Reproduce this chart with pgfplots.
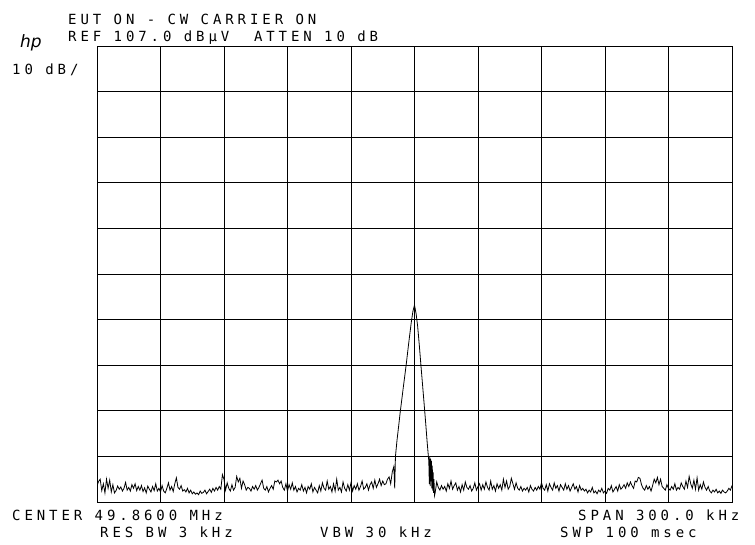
\documentclass[border=0pt]{standalone}
\usepackage{fontspec}
\usepackage{pgfplots}
\usepackage{pgfplotstable}
\pgfplotsset{compat=1.18}
\newfontfamily\hpfont[LetterSpace=28]{DejaVu Sans Mono}
\newfontfamily\logofont{DejaVu Sans}

% sweep points, 0.75 kHz apart, left of the carrier (-150 ... -10.5 kHz)
\pgfplotstableread{
y
10.5
11.5
12.0
9.5
11.0
9.0
12.0
10.0
11.8
9.2
10.8
9.0
9.5
10.5
9.8
10.3
9.4
10.0
11.3
9.6
10.2
9.4
10.8
10.0
11.0
9.5
10.4
9.6
10.6
9.3
10.1
9.0
10.5
9.8
9.2
10.4
9.5
11.0
9.4
10.0
9.2
10.6
9.4
9.0
10.0
11.2
9.6
10.4
9.3
11.0
12.3
10.2
9.8
10.6
9.4
9.7
9.2
10.0
9.0
9.6
8.8
9.2
8.7
9.0
8.6
9.4
8.9
9.1
9.6
8.8
9.3
9.8
9.1
10.0
9.4
10.2
9.6
10.4
9.8
13.0
12.0
9.6
11.2
10.0
9.4
10.8
9.6
10.2
12.6
11.4
12.2
10.0
11.6
10.8
9.6
10.2
10.0
9.4
10.4
9.8
10.6
9.6
10.2
11.0
11.8
10.0
9.6
10.4
9.2
10.0
10.6
9.8
11.6
11.4
11.8
11.0
11.6
10.2
9.6
11.0
9.4
10.8
9.8
11.2
9.6
10.4
9.2
10.0
9.6
10.8
9.4
10.2
9.0
10.4
9.8
11.0
9.2
10.2
9.6
9.0
10.6
9.4
11.2
10.0
9.6
11.6
9.8
10.4
9.2
11.0
9.4
12.0
9.6
10.2
9.2
11.4
10.0
9.4
10.8
9.6
11.2
9.4
10.6
9.8
11.0
9.6
10.4
11.6
9.8
10.2
11.0
9.6
10.8
11.4
10.0
11.8
10.2
11.0
12.0
10.6
11.6
10.8
11.0
12.0
12.5
11.0
13.6
}\noiseleft

% sweep points right of the carrier (9.75 ... 150 kHz)
\pgfplotstableread{
y
9.0
11.4
10.2
9.6
10.6
9.8
10.4
9.4
11.0
10.0
11.6
9.8
10.6
11.2
9.6
10.4
9.2
10.8
9.6
11.4
10.2
9.8
10.6
9.4
10.0
11.2
9.6
10.4
11.0
9.6
10.8
9.8
11.4
10.2
9.6
11.6
9.8
10.6
9.4
11.0
10.0
10.8
9.6
12.0
10.2
11.6
9.8
10.4
12.2
11.0
9.8
11.2
10.0
9.6
10.4
9.4
10.0
9.6
10.2
9.2
10.6
9.8
9.4
10.2
9.6
10.4
9.8
11.2
10.0
9.6
10.8
9.4
11.0
10.2
9.6
11.2
10.0
10.6
9.4
10.8
10.2
9.6
11.0
9.8
10.6
9.4
10.2
11.0
9.8
10.4
9.2
10.6
9.6
10.0
9.4
9.8
9.0
9.6
9.2
10.2
9.0
9.4
8.8
9.6
9.2
10.0
9.0
9.4
8.9
10.0
9.6
10.6
9.2
9.8
10.4
9.4
10.8
9.8
10.2
10.8
10.0
11.2
10.4
11.4
10.6
10.0
11.6
11.4
12.4
12.2
10.8
10.0
9.6
10.6
9.8
10.4
9.4
10.6
12.0
11.2
12.4
10.8
12.0
10.4
10.0
9.6
10.8
10.0
9.6
10.4
9.8
11.0
9.6
10.2
9.8
11.2
10.4
9.8
11.6
10.2
12.6
11.0
10.0
11.8
9.8
12.3
9.6
10.8
9.8
11.4
10.2
9.6
10.4
9.4
9.0
9.6
9.2
9.8
9.0
9.4
8.9
9.6
9.2
9.0
9.4
10.0
9.6
10.6
}\noiseright

\begin{document}
\begin{tikzpicture}[x=1pt,y=1pt]
\useasboundingbox (0,0) rectangle (755,544);
\begin{axis}[
    at={(97pt,42pt)}, anchor=south west,
    scale only axis, width=635pt, height=456pt,
    xmin=-150, xmax=150, ymin=7, ymax=107,
    xtick={-150,-120,...,150}, ytick={7,17,...,107},
    xticklabels={}, yticklabels={},
    major tick length=0pt,
    grid=major, grid style={black, line width=0.9pt},
    axis line style={line width=0.9pt},
]
\addplot[black, line width=0.8pt, no markers] table[x expr=\coordindex*0.75-150, y=y] {\noiseleft};
% carrier response, with the dense sweep-to-sweep hashing on its lower right flank
\addplot[black, line width=0.8pt, no markers] coordinates {
  (-10.5,13.6)(-9.75,14.8)(-9.35,10.0)(-9.0,17.0)(-8.25,20.6)(-7.5,23.6)
  (-6.75,26.7)(-6.0,29.5)(-5.25,32.3)(-4.5,35.0)(-3.75,37.8)(-3.0,40.8)
  (-2.25,43.7)(-1.5,46.5)(-0.75,48.8)(0,50.2)(0.75,48.3)(1.5,45.5)
  (2.25,41.5)(3.0,37.2)(3.75,33.0)(4.5,28.8)(5.25,24.5)(6.0,20.0)(6.75,16.0)
  (7.0,11.0)(7.2,17.0)(7.4,10.5)(7.6,16.5)(7.8,11.5)(8.0,16.0)(8.2,10.0)
  (8.4,15.0)(8.6,9.5)(8.8,13.5)(9.0,9.0)(9.2,12.0)(9.45,8.4)(9.75,9.0)
};
\addplot[black, line width=0.8pt, no markers] table[x expr=\coordindex*0.75+9.75, y=y] {\noiseright};
\end{axis}
\begin{scope}[every node/.style={anchor=base west, inner sep=0pt, font=\hpfont\fontsize{14}{14}\selectfont}]
\node at (68,519) {EUT ON - CW CARRIER ON};
\node at (68,502) {REF 107.0 dBµV\ \ ATTEN 10 dB};
\node at (12,469) {10 dB/};
\node at (12,24) {CENTER 49.8600 MHz};
\node at (100,7) {RES BW 3 kHz};
\node at (320,7) {VBW 30 kHz};
\node at (578,24) {SPAN 300.0 kHz};
\node at (560,7) {SWP 100 msec};
\end{scope}
\node[anchor=base west, inner sep=0pt, font=\logofont\itshape\fontsize{17}{17}\selectfont] at (20,496) {hp};
\end{tikzpicture}
\end{document}
